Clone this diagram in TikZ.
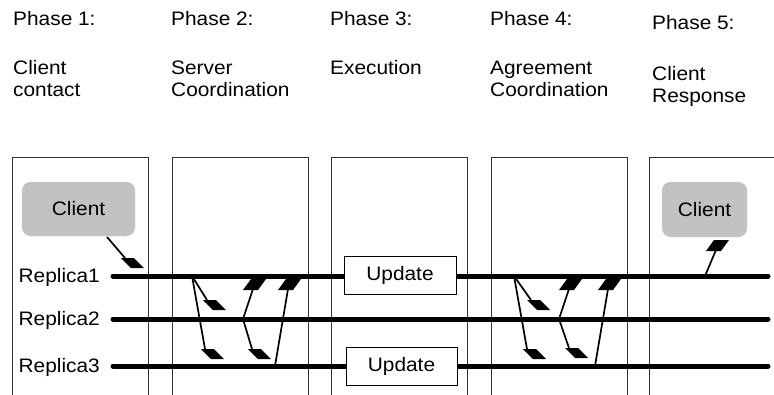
\documentclass[tikz,border=0pt]{standalone}
\usepackage{fontspec}
\setmainfont{Liberation Sans}[FakeStretch=1.07]
\begin{document}
\begin{tikzpicture}[x=1pt,y=-1pt,
  lbl/.style={anchor=base west,inner sep=0pt,align=left,
    font=\fontsize{19.5}{22}\selectfont},
  panel/.style={draw=black!80,line width=0.9pt},
  replica/.style={line width=5pt,line cap=round},
  msg/.style={line width=1.7pt},
  clientbox/.style={fill=black!24,draw=black!20,rounded corners=9pt,
    minimum width=113pt,minimum height=54pt,inner sep=0pt,
    font=\fontsize{19.5}{22}\selectfont},
  updbox/.style={fill=white,draw=black,line width=0.9pt,
    minimum width=112pt,minimum height=38pt,inner sep=0pt,
    font=\fontsize{19.5}{22}\selectfont},
  headdn/.pic={\fill (-4,0) -- (9,0) -- (19,10) -- (6,10) -- cycle;},
  headup/.pic={\fill (-10,1) -- (5,1) -- (13,-10) -- (-2,-10) -- cycle;}]
\clip (0,0) rectangle (774,394);
\fill[white] (0,0) rectangle (774,394);

% phase headings (two-line nodes are placed by their last baseline)
\node[lbl] (ph1) at (13,25) {Phase 1:};
\node[lbl] (ph2) at (171,25) {Phase 2:};
\node[lbl] (ph3) at (330,25) {Phase 3:};
\node[lbl] (ph4) at (490,25) {Phase 4:};
\node[lbl] (ph5) at (652,29) {Phase 5:};
\node[lbl] (d1) at (13,96) {Client\\contact};
\node[lbl] (d2) at (171,96) {Server\\Coordination};
\node[lbl] (d3) at (330,74) {Execution};
\node[lbl] (d4) at (490,96) {Agreement\\Coordination};
\node[lbl] (d5) at (652,102) {Client\\Response};

% phase columns, open at the bottom
\foreach \a/\b in {12/148,172/308,331/467,491/627,649/790}
  \draw[panel] (\a,420) -- (\a,157) -- (\b,157) -- (\b,420);

% replica time lines
\foreach \i/\y in {1/276,2/319,3/366}{
  \coordinate (r\i s) at (113,\y);
  \coordinate (r\i e) at (768,\y);
  \node[lbl,anchor=base east] (lab\i) at (100,\y+6) {Replica\i};
}
\draw[replica] (r1s) -- (r1e);
\draw[replica] (r2s) -- (r2e);
\draw[replica] (r3s) -- (r3e);

% clients and execution boxes
\node[clientbox] (cl1) at (78.5,209) {Client};
\node[clientbox,minimum width=85pt,minimum height=55pt] (cl2) at (704.5,209.5) {Client};
\node[updbox] (up1) at (400,275) {Update};
\node[updbox,minimum width=111pt] (up3) at (401.5,366) {Update};

% phase 1: request from the client
\coordinate (c1o) at (107,237);
\coordinate (c1t) at (125,258);
\draw[msg] (c1o) -- (c1t);
\pic at (c1t) {headdn};

% phase 2: server coordination
\coordinate (a1) at (192,276);
\coordinate (a1t) at (207,300);
\coordinate (b1t) at (205,349);
\coordinate (a2) at (243,319);
\coordinate (c2t) at (253,289);
\coordinate (d2t) at (252,349);
\coordinate (a3) at (275,366);
\coordinate (e3t) at (288,289);
\draw[msg] (a1) -- (a1t);  \pic at (a1t) {headdn};
\draw[msg] (a1) -- (b1t);  \pic at (b1t) {headdn};
\draw[msg] (a2) -- (c2t);  \pic at (c2t) {headup};
\draw[msg] (a2) -- (d2t);  \pic at (d2t) {headdn};
\draw[msg] (a3) -- (e3t);  \pic at (e3t) {headup};

% phase 4: agreement coordination
\coordinate (f1) at (514,276);
\coordinate (f1t) at (531,300);
\coordinate (g1t) at (527,349);
\coordinate (f2) at (559,319);
\coordinate (h2t) at (569,289);
\coordinate (k2t) at (569,348);
\coordinate (f3) at (595,366);
\coordinate (m3t) at (608,289);
\draw[msg] (f1) -- (f1t);  \pic at (f1t) {headdn};
\draw[msg] (f1) -- (g1t);  \pic at (g1t) {headdn};
\draw[msg] (f2) -- (h2t);  \pic at (h2t) {headup};
\draw[msg] (f2) -- (k2t);  \pic at (k2t) {headdn};
\draw[msg] (f3) -- (m3t);  \pic at (m3t) {headup};

% phase 5: reply to the client
\coordinate (p5) at (705,276);
\coordinate (p5t) at (716,250);
\draw[msg] (p5) -- (p5t);  \pic at (p5t) {headup};
\end{tikzpicture}
\end{document}
